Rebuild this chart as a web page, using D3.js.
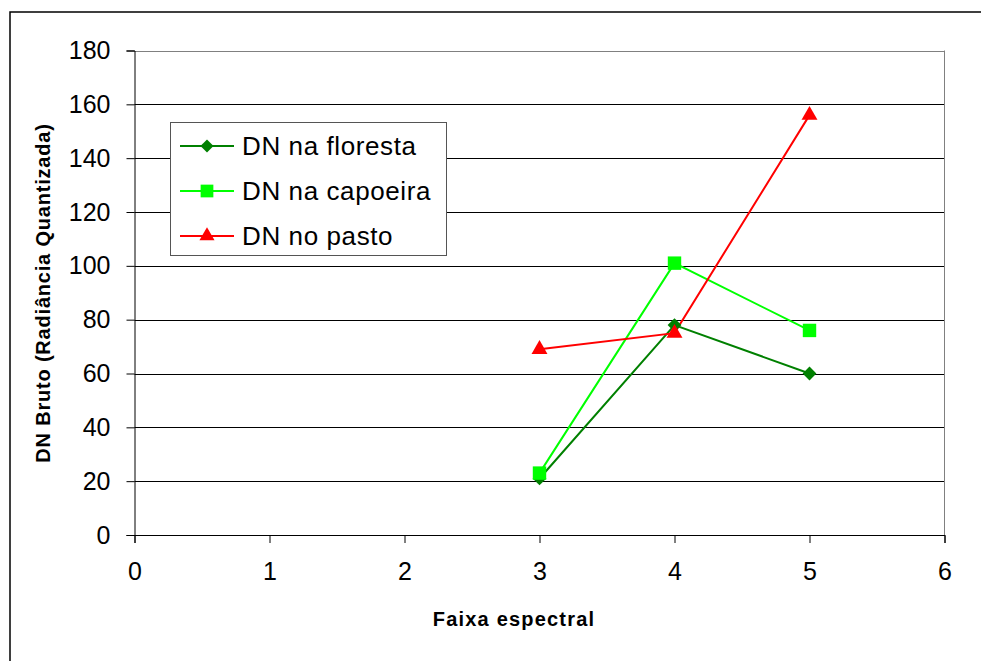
<!DOCTYPE html>
<html>
<head>
<meta charset="utf-8">
<script src="https://cdn.jsdelivr.net/npm/d3@7"></script>
<style>
  html, body { margin: 0; padding: 0; background: #fff; }
  svg { display: block; font-family: "Liberation Sans", Arial, sans-serif; }
</style>
</head>
<body>
<svg id="chart" width="981" height="661"></svg>
<script>
// Spectral bands and raw DN values per land-cover class
const bands = [3, 4, 5];
const floresta = [21, 78, 60];
const capoeira = [23, 101, 76];
const pasto = [69, 75, 156];
const xTicks = [0, 1, 2, 3, 4, 5, 6];
const yTicks = [0, 20, 40, 60, 80, 100, 120, 140, 160, 180];
const seriesNames = ["DN na floresta", "DN na capoeira", "DN no pasto"];

const series = [
  { name: seriesNames[0], values: floresta, color: "#008000", symbol: d3.symbolSquare, size: 95, rot: 45 },
  { name: seriesNames[1], values: capoeira, color: "#00ff00", symbol: d3.symbolSquare, size: 180, rot: 0 },
  { name: seriesNames[2], values: pasto, color: "#ff0000", symbol: d3.symbolTriangle, size: 110, rot: 0 }
];

const svg = d3.select("#chart");

// outer chart frame
svg.append("rect")
  .attr("x", 10).attr("y", 12)
  .attr("width", 990).attr("height", 680)
  .attr("fill", "#fff").attr("stroke", "#000").attr("stroke-width", 1.5);

const m = { left: 134.5, right: 944.5, top: 50.5, bottom: 535 };
const x = d3.scaleLinear().domain([0, 6]).range([m.left, m.right]);
const y = d3.scaleLinear().domain([0, 180]).range([m.bottom, m.top]);

// horizontal gridlines
svg.append("g").selectAll("line")
  .data(yTicks.filter(v => v > 0))
  .join("line")
  .attr("x1", m.left).attr("x2", m.right)
  .attr("y1", d => Math.round(y(d)) + 0.5).attr("y2", d => Math.round(y(d)) + 0.5)
  .attr("stroke", d => d === 180 ? "#808080" : "#000").attr("stroke-width", 1);

// right border of plot area
svg.append("line")
  .attr("x1", m.right).attr("x2", m.right)
  .attr("y1", m.top).attr("y2", m.bottom)
  .attr("stroke", "#808080").attr("stroke-width", 1);

// y axis
const yAxis = d3.axisLeft(y).tickValues(yTicks).tickSize(8).tickPadding(6).tickFormat(d3.format("d"));
const gy = svg.append("g").attr("transform", `translate(${m.left},0)`).call(yAxis);
gy.select(".domain").attr("stroke", "#000");
gy.selectAll(".tick line").attr("stroke", "#000");
gy.selectAll(".tick text").attr("font-size", 25).attr("fill", "#000")
  .attr("font-family", "Liberation Sans, Arial, sans-serif").attr("x", -24);

// x axis
const xAxis = d3.axisBottom(x).tickValues(xTicks).tickSize(8).tickPadding(22).tickFormat(d3.format("d"));
const gx = svg.append("g").attr("transform", `translate(0,${m.bottom})`).call(xAxis);
gx.select(".domain").attr("stroke", "#000");
gx.selectAll(".tick line").attr("stroke", "#000");
gx.selectAll(".tick text").attr("font-size", 25).attr("fill", "#000")
  .attr("font-family", "Liberation Sans, Arial, sans-serif").attr("dy", "0.6em");

// axis titles
svg.append("text")
  .attr("x", 514).attr("y", 626)
  .attr("text-anchor", "middle").attr("font-weight", "bold").attr("font-size", 20)
  .attr("letter-spacing", 1.2)
  .text("Faixa espectral");

svg.append("text")
  .attr("transform", `translate(43,293) rotate(-90)`)
  .attr("text-anchor", "middle").attr("dy", "0.35em").attr("font-weight", "bold").attr("font-size", 20)
  .attr("letter-spacing", 0.8)
  .text("DN Bruto (Radiância Quantizada)");

// series lines and markers
const line = d3.line().x((d, i) => x(bands[i])).y(d => y(d));
series.forEach(s => {
  svg.append("path")
    .datum(s.values)
    .attr("d", line)
    .attr("fill", "none").attr("stroke", s.color).attr("stroke-width", 2);
});
series.forEach(s => {
  svg.append("g").selectAll("path")
    .data(s.values)
    .join("path")
    .attr("transform", (d, i) => `translate(${x(bands[i])},${y(d)}) rotate(${s.rot})`)
    .attr("d", d3.symbol().type(s.symbol).size(s.size))
    .attr("fill", s.color);
});

// legend
const lg = svg.append("g");
lg.append("rect")
  .attr("x", 170.5).attr("y", 122.5).attr("width", 276).attr("height", 133)
  .attr("fill", "#fff").attr("stroke", "#555").attr("stroke-width", 1);
series.forEach((s, i) => {
  const cy = 146 + i * 45;
  lg.append("line").attr("x1", 180).attr("x2", 234).attr("y1", cy).attr("y2", cy)
    .attr("stroke", s.color).attr("stroke-width", 2);
  lg.append("path").attr("transform", `translate(207,${cy}) rotate(${s.rot})`)
    .attr("d", d3.symbol().type(s.symbol).size(s.size * 0.9)).attr("fill", s.color);
  lg.append("text").attr("x", 242).attr("y", cy).attr("dy", "0.36em")
    .attr("font-size", 26).attr("letter-spacing", 0.6).text(s.name);
});
</script>
</body>
</html>
